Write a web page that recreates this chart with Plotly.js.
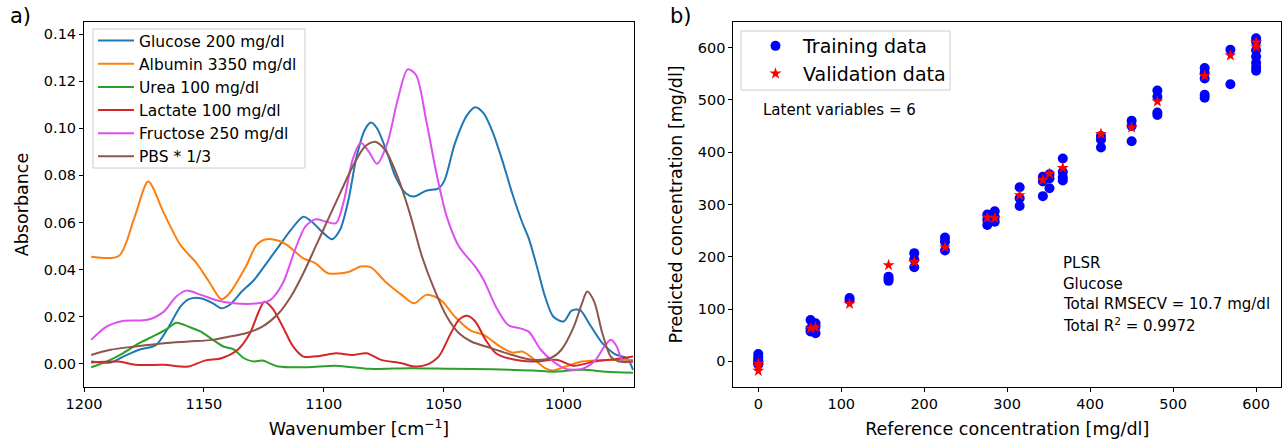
<!DOCTYPE html>
<html><head><meta charset="utf-8">
<script src="https://cdn.plot.ly/plotly-3.0.1.min.js"></script>
<style>body{margin:0;padding:0;background:#fff}#chart{width:1284px;height:440px}</style>
</head><body><div id="chart"></div>
<script>
// ---- Panel a) spectra ----
const glucoseX = [1197,1188.9,1183.8,1177,1170,1165,1159.8,1156.4,1151.3,1146.2,1142.7,1139.3,1134.2,1129.1,1123.9,1118.8,1113.7,1108.5,1105.1,1100,1096.6,1093.2,1089.7,1086.3,1082.9,1080.3,1077.8,1073.5,1070.1,1065.8,1062.4,1057.3,1052.1,1049.6,1045.3,1040.2,1036.8,1033.3,1029.9,1025.6,1021.4,1017.1,1014.5,1011.1,1007.7,1004.3,1000,996.6,993.2,988.9,983.8,978.6,973.5,971];
const glucoseY = [0.001,0.0006,0.003,0.006,0.008,0.0151,0.0243,0.0274,0.0279,0.0257,0.0236,0.025,0.0307,0.0356,0.0427,0.0498,0.0569,0.0625,0.0604,0.0554,0.0529,0.0569,0.0696,0.088,0.0993,0.1024,0.1,0.0894,0.0795,0.0724,0.071,0.0735,0.0745,0.078,0.0936,0.1056,0.1089,0.1063,0.0993,0.0866,0.0724,0.0597,0.0533,0.0413,0.0286,0.0201,0.018,0.0226,0.0229,0.0165,0.0088,0.0042,0.0024,-0.0025];

const albuminX = [1197,1185.5,1179,1173.2,1166.7,1159.8,1153,1147.9,1142.7,1139.3,1132.5,1128,1124,1118.8,1115.4,1108.5,1103.4,1098.3,1089.7,1084.6,1080.3,1074.4,1067.5,1062.4,1057.3,1053.8,1050.4,1045.3,1038.5,1033.3,1026.5,1021.4,1017.1,1012.8,1007.7,1004.3,999.1,992.3,982,971];
const albuminY = [0.0455,0.0458,0.062,0.0774,0.064,0.0505,0.0427,0.035,0.0274,0.03,0.0413,0.0505,0.0529,0.0523,0.0505,0.0448,0.0427,0.0385,0.039,0.0413,0.041,0.035,0.0293,0.0257,0.0293,0.0286,0.0264,0.02,0.014,0.0123,0.0074,0.0048,0.0052,0.0024,-0.0018,-0.0028,-0.0011,0.001,0.0017,0.0017];

const ureaX = [1197,1190.6,1183.8,1177,1170,1165,1161.5,1156.4,1151.3,1146.2,1141.9,1137.6,1133.3,1129.1,1125.6,1118.8,1106.8,1094.9,1081.2,1064.1,1047,1029.9,1012.8,1004.3,992.3,982,971];
const ureaY = [-0.0014,0.001,0.0045,0.0088,0.0123,0.0151,0.0175,0.0158,0.0137,0.0102,0.0074,0.0062,0.0024,0.001,0.0014,-0.0011,-0.0014,-0.0008,-0.0021,-0.0018,-0.0021,-0.0023,-0.0028,-0.0033,-0.0025,-0.0033,-0.0037];

const lactateX = [1197,1185.5,1178.6,1166.7,1156.4,1149.6,1142.7,1135.9,1130.8,1127.4,1124.8,1121.4,1117.1,1112.8,1108.5,1101.7,1094.9,1088,1082.1,1076.1,1067.5,1062.4,1057.3,1052.1,1047,1043.6,1040.2,1036.8,1032.5,1028.2,1023.1,1012.8,1002.6,995.7,987.2,978.6,971];
const lactateY = [0.0006,0.001,-0.0004,-0.0004,-0.0011,0.0014,0.0024,0.006,0.013,0.0215,0.0264,0.0236,0.0158,0.0074,0.0031,0.0034,0.0045,0.0038,0.0045,0.0017,0.0003,-0.0011,-0.0004,0.0031,0.013,0.0187,0.0204,0.018,0.0102,0.0045,0.0024,0.001,0.0017,-0.0008,0.001,0.002,0.0031];

const fructoseX = [1197,1190.6,1183.8,1173.5,1166.7,1161.5,1157.3,1151.3,1144.4,1137.6,1127.4,1122.2,1117.1,1112,1107.7,1103.4,1099.1,1094.9,1091.5,1088,1084.6,1081.2,1077.8,1073.5,1069.2,1065,1061.5,1057.3,1053,1048.7,1043.6,1036.8,1033.3,1028.2,1023.1,1018,1014.5,1009.4,1004.3,999.1,992.3,987.2,982.9,980.3,977.8,975.2,971];
const fructoseY = [0.0102,0.0158,0.0182,0.0187,0.0222,0.0286,0.0311,0.0293,0.0269,0.0257,0.0257,0.0272,0.0342,0.0484,0.0583,0.0614,0.0604,0.0597,0.0696,0.0866,0.0939,0.0901,0.0849,0.0936,0.112,0.125,0.1226,0.1035,0.0809,0.0625,0.0498,0.0413,0.0356,0.0243,0.0165,0.0151,0.0137,0.0059,0.001,-0.0021,-0.0021,0.001,0.0074,0.0102,0.0074,0.001,0.001];

const pbsX = [1197,1188.9,1178.6,1166.7,1156.4,1146.2,1139.3,1132.5,1125.6,1118.8,1113.7,1108.5,1103.4,1098.3,1093.2,1088,1082.9,1078.6,1074.4,1069.2,1064.1,1059,1053.8,1048.7,1043.6,1038.5,1029.9,1021.4,1012.8,1005.5,1000.9,995.7,992.3,990.1,987.2,983.8,980.3,976.9,971];
const pbsY = [0.0038,0.006,0.0074,0.0088,0.0095,0.0102,0.0116,0.013,0.0158,0.0215,0.0286,0.0385,0.0498,0.0611,0.0724,0.0837,0.0922,0.0943,0.0908,0.0795,0.0639,0.0455,0.0314,0.0201,0.013,0.0095,0.0066,0.0038,0.0017,0.0024,0.006,0.0158,0.0257,0.0307,0.0264,0.013,0.0031,0.001,0.001];

const seriesNames = ["Glucose 200 mg/dl","Albumin 3350 mg/dl","Urea 100 mg/dl","Lactate 100 mg/dl","Fructose 250 mg/dl","PBS * 1/3"];

// ---- Panel b) PLSR ----
const trainRef = [0,0,0,0,0,0, 63,63,63, 69,69,69, 110,110, 157,157,157, 188,188,188, 225,225,225, 276,276,276, 285,285,285, 315,315,315, 343,343,343, 351,351,351, 367,367,367,367, 413,413,413, 450,450,450, 481,481,481,481, 538,538,538,538,538, 569,569, 600,600,600,600,600,600,600];
const trainPred = [14,8,3,0,-3,-6, 79,63,57, 73,66,54, 121,117, 162,158,154, 207,195,180, 237,229,212, 281,271,261, 287,276,267, 333,312,297, 353,344,316, 358,350,331, 388,362,352,346, 431,424,409, 460,450,421, 518,506,476,471, 561,552,541,510,504, 596,530, 618,611,595,583,571,563,556];
const valRef = [0,0,0, 63,69, 110, 157, 188, 225, 276, 285, 315, 343, 351, 367, 413, 450, 481, 538, 569, 600, 600];
const valPred = [-4,-9,-18, 63,65, 110, 184, 190, 218, 275, 274, 318, 347, 359, 370, 435, 447, 497, 546, 585, 610, 601];

const FONT = "DejaVu Sans, Liberation Sans, sans-serif";
const colors = ["#1f77b4","#ff7f0e","#2ca02c","#d62728","#dd50f0","#8c564b"];
const specX = [glucoseX, albuminX, ureaX, lactateX, fructoseX, pbsX];
const specY = [glucoseY, albuminY, ureaY, lactateY, fructoseY, pbsY];

const traces = seriesNames.map((n,i)=>({
  x: specX[i], y: specY[i], name: n, type: "scatter", mode: "lines",
  line: {color: colors[i], width: 2, shape: "spline", smoothing: 0.8},
  xaxis: "x", yaxis: "y", legend: "legend"
}));
traces.push({x: trainRef, y: trainPred, name: "Training data", type: "scatter", mode: "markers",
  marker: {color: "#0000ff", size: 10, symbol: "circle"}, xaxis: "x2", yaxis: "y2", legend: "legend2"});
traces.push({x: valRef, y: valPred, name: "Validation data", type: "scatter", mode: "markers",
  marker: {color: "#ff0000", size: 9, symbol: "star", line: {width: 0}}, xaxis: "x2", yaxis: "y2", legend: "legend2"});

const axBase = {showline: true, mirror: true, linecolor: "#000", linewidth: 1, ticks: "outside", ticklen: 4,
  tickcolor: "#000", showgrid: false, zeroline: false, tickfont: {family: FONT, size: 14.5, color: "#000"}};

const px = v => v/1284, py = v => 1 - v/440;

const layout = {
  width: 1284, height: 440, margin: {l: 0, r: 0, t: 0, b: 0},
  paper_bgcolor: "#fff", plot_bgcolor: "#fff", font: {family: FONT, color: "#000"},
  xaxis: Object.assign({}, axBase, {domain: [px(84), px(634)], range: [1200, 970.6], tickvals: [1200,1150,1100,1050,1000],
    title: {text: "Wavenumber [cm<sup>−1</sup>]", font: {family: FONT, size: 17.5}, standoff: 11}, anchor: "y"}),
  yaxis: Object.assign({}, axBase, {domain: [py(387), py(22)], range: [-0.0098, 0.1451], dtick: 0.02, tickformat: ".2f",
    title: {text: "Absorbance", font: {family: FONT, size: 17.5}, standoff: 10}, anchor: "x"}),
  xaxis2: Object.assign({}, axBase, {domain: [px(733.4), px(1281)], range: [-30, 630], dtick: 100,
    title: {text: "Reference concentration [mg/dl]", font: {family: FONT, size: 17.5}, standoff: 11}, anchor: "y2"}),
  yaxis2: Object.assign({}, axBase, {domain: [py(387), py(22)], range: [-49, 649], dtick: 100,
    title: {text: "Predicted concentration [mg/dl]", font: {family: FONT, size: 17.5}, standoff: 10}, anchor: "x2"}),
  showlegend: true,
  legend: {x: px(93), y: py(24), xanchor: "left", yanchor: "top", bgcolor: "rgba(0,0,0,0)",
    borderwidth: 0, font: {family: FONT, size: 15.5, color: "#000"}, itemwidth: 36},
  legend2: {x: px(748), y: py(27), xanchor: "left", yanchor: "top", bgcolor: "rgba(0,0,0,0)",
    borderwidth: 0, font: {family: FONT, size: 19, color: "#000"}, itemwidth: 45},
  shapes: [
    {type: "rect", xref: "paper", yref: "paper", x0: px(93), x1: px(305), y0: py(168), y1: py(29), layer: "above",
      line: {color: "#cccccc", width: 1}, fillcolor: "rgba(255,255,255,0.8)"},
    {type: "rect", xref: "paper", yref: "paper", x0: px(741), x1: px(950), y0: py(90), y1: py(31), layer: "above",
      line: {color: "#cccccc", width: 1}, fillcolor: "rgba(255,255,255,0.8)"}
  ],
  annotations: [
    {text: "a)", xref: "paper", yref: "paper", x: px(8), y: py(16), xanchor: "left", yanchor: "middle", showarrow: false, font: {family: FONT, size: 21}},
    {text: "b)", xref: "paper", yref: "paper", x: px(668), y: py(16), xanchor: "left", yanchor: "middle", showarrow: false, font: {family: FONT, size: 21}},
    {text: "Latent variables = 6", xref: "paper", yref: "paper", x: px(761), y: py(110), xanchor: "left", yanchor: "middle", showarrow: false, font: {family: FONT, size: 15}},
    {text: "PLSR", xref: "paper", yref: "paper", x: px(1061), y: py(263), xanchor: "left", yanchor: "middle", showarrow: false, font: {family: FONT, size: 15}},
    {text: "Glucose", xref: "paper", yref: "paper", x: px(1061), y: py(283.5), xanchor: "left", yanchor: "middle", showarrow: false, font: {family: FONT, size: 15}},
    {text: "Total RMSECV = 10.7 mg/dl", xref: "paper", yref: "paper", x: px(1061), y: py(304), xanchor: "left", yanchor: "middle", showarrow: false, font: {family: FONT, size: 15}},
    {text: "Total R<sup>2</sup> = 0.9972", xref: "paper", yref: "paper", x: px(1061), y: py(324.5), xanchor: "left", yanchor: "middle", showarrow: false, font: {family: FONT, size: 15}}
  ]
};
Plotly.newPlot("chart", traces, layout, {staticPlot: true, displayModeBar: false});
</script></body></html>
